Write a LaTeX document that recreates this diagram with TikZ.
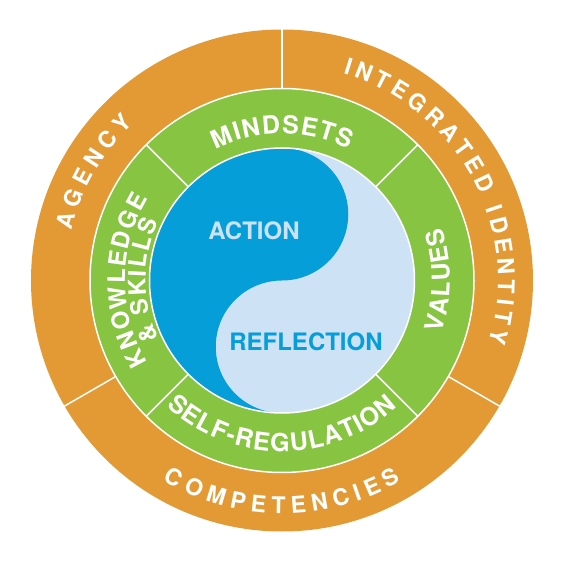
\documentclass[tikz,border=0pt]{standalone}
\usepackage{fontspec}
\setmainfont{TeX Gyre Heros}
\definecolor{ringorange}{HTML}{E39A34}
\definecolor{ringgreen}{HTML}{86C441}
\definecolor{yydark}{HTML}{069ED9}
\definecolor{yylight}{HTML}{CDE3F5}
\newcommand\outerfont{\bfseries\fontsize{23}{23}\selectfont}
\newcommand\greenfont{\bfseries\fontsize{25}{25}\selectfont}
\newcommand\ksfont{\bfseries\fontsize{24}{24}\selectfont}
\newcommand\centerfont{\bfseries\fontsize{24}{24}\selectfont}
\tikzset{
  divider/.style={white, line width=1.5pt},
  ringline/.style={white, line width=1.5pt},
  arcletter/.style={inner sep=0pt, anchor=base, text=white},
  centerlabel/.style={inner sep=0pt, font=\centerfont}
}
\newdimen\arcdim
\newdimen\arctot
\newdimen\arccur
% #1 font, #2 baseline radius, #3 centre angle, #4 1=clockwise (tops out) / -1=counterclockwise (tops in), #5 tracking (pt), #6 letters
\newcommand\arclabel[6]{%
  \global\arctot=0pt
  \foreach \ch in {#6}{%
    \pgfinterruptpicture\settowidth\arcdim{#1\ch}\global\arcdim=\arcdim\endpgfinterruptpicture
    \global\advance\arctot by \arcdim
    \global\advance\arctot by #5pt}%
  \global\arccur=0pt
  \foreach \ch in {#6}{%
    \pgfinterruptpicture\settowidth\arcdim{#1\ch}\global\arcdim=\arcdim\endpgfinterruptpicture
    \global\advance\arcdim by #5pt
    \pgfmathsetmacro\arcang{#3+#4*(0.5*\arctot-\arccur-0.5*\arcdim)/#2*180/pi}%
    \node[arcletter, font=#1, rotate=\arcang-#4*90] at (\arcang:#2) {\ch};
    \global\advance\arccur by \arcdim}%
}
\begin{document}
\begin{tikzpicture}[x=1pt,y=1pt]
\useasboundingbox (-282,-286.5) rectangle (280,280.5);
% rings
\fill[ringorange] (0,0) circle[radius=251];
\fill[ringgreen] (0,0) circle[radius=192];
\draw[ringline] (0,0) circle[radius=192];
% yin-yang
\fill[yylight] (0,0) circle[radius=132.5];
\fill[yydark] (0,132.5) arc[start angle=90, end angle=270, radius=132.5]
  arc[start angle=270, end angle=90, radius=66.25]
  arc[start angle=-90, end angle=90, radius=66.25] -- cycle;
\draw[ringline] (0,0) circle[radius=132.5];
% dividers
\foreach \a in {45,135,225,315} \draw[divider] (\a:132.5) -- (\a:192);
\foreach \a in {90,210,330} \draw[divider] (\a:192) -- (\a:252);
% outer ring labels
\arclabel{\outerfont}{216}{150}{1}{5.5}{A,G,E,N,C,Y}
\arclabel{\outerfont}{216}{28.5}{1}{4.4}{I,N,T,E,G,R,A,T,E,D,~,I,D,E,N,T,I,T,Y}
\arclabel{\outerfont}{233}{270}{-1}{6}{C,O,M,P,E,T,E,N,C,I,E,S}
% green ring labels
\arclabel{\greenfont}{147}{90}{1}{1.25}{M,I,N,D,S,E,T,S}
\arclabel{\ksfont}{157}{180}{1}{1.6}{K,N,O,W,L,E,D,G,E}
\arclabel{\ksfont}{136.5}{180}{1}{1.6}{\&,~,S,K,I,L,L,S}
\arclabel{\greenfont}{168}{0}{-1}{1.2}{V,A,L,U,E,S}
\arclabel{\greenfont}{171}{270}{-1}{1.2}{S,E,L,F,-,R,E,G,U,L,A,T,I,O,N}
% centre labels
\node[centerlabel, text=yylight] (action) at (-28,49.5) {ACTION};
\node[centerlabel, text=yydark] (reflection) at (24,-61.5) {REFLECTION};
\end{tikzpicture}
\end{document}
